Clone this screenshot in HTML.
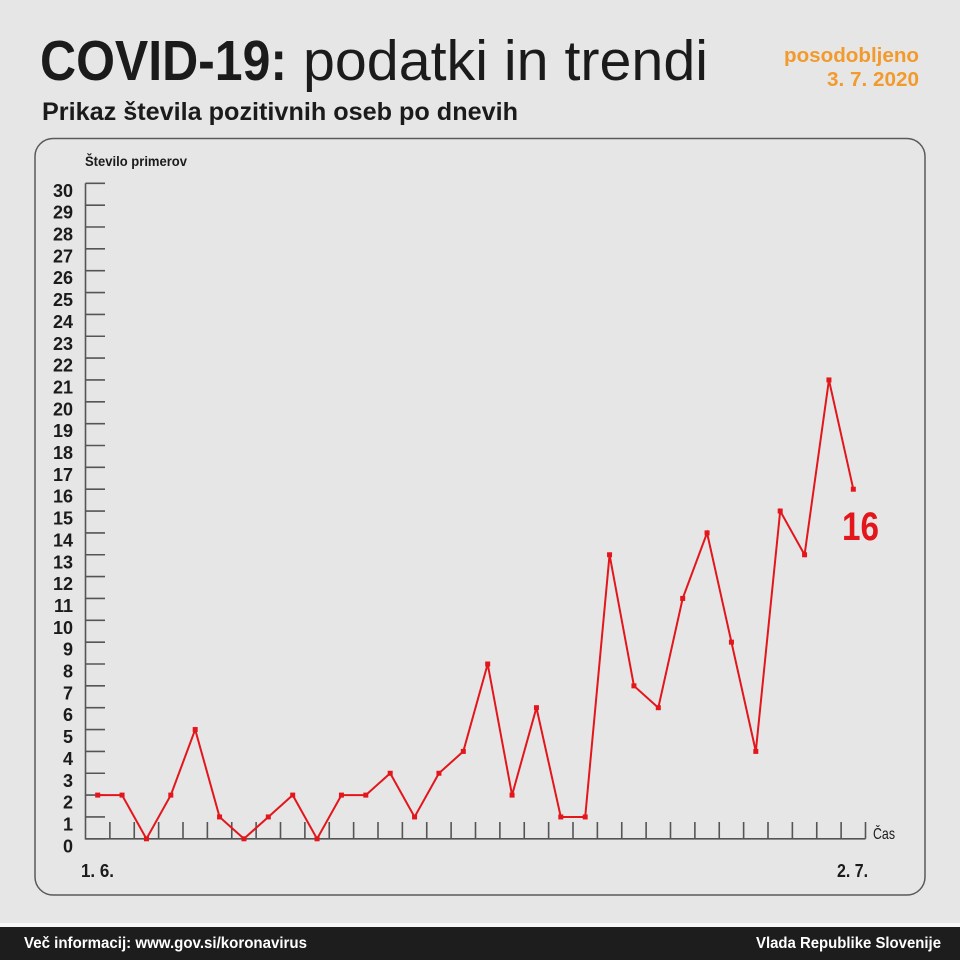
<!DOCTYPE html>
<html>
<head>
<meta charset="utf-8">
<style>
html,body{margin:0;padding:0;background:#e6e6e6;}
svg{display:block;}
text{font-family:"Liberation Sans",sans-serif;}
</style>
</head>
<body>
<svg width="960" height="960" viewBox="0 0 960 960" xmlns="http://www.w3.org/2000/svg">
<defs>
<marker id="sq" markerWidth="6" markerHeight="6" refX="3" refY="3" markerUnits="userSpaceOnUse">
<rect x="0.5" y="0.5" width="5" height="5" fill="#e3161c"/>
</marker>
</defs>
<rect x="0" y="0" width="960" height="960" fill="#e6e6e6"/>

<!-- Titles -->
<text x="40" y="80" font-size="57" font-weight="700" fill="#1b1b1b" textLength="247" lengthAdjust="spacingAndGlyphs">COVID-19:</text>
<text x="303" y="80" font-size="57" font-weight="400" fill="#1b1b1b" textLength="405" lengthAdjust="spacingAndGlyphs">podatki in trendi</text>
<text x="919" y="62" font-size="20" font-weight="700" fill="#f39a2d" text-anchor="end" textLength="135" lengthAdjust="spacingAndGlyphs">posodobljeno</text>
<text x="919" y="86" font-size="20" font-weight="700" fill="#f39a2d" text-anchor="end" textLength="92" lengthAdjust="spacingAndGlyphs">3. 7. 2020</text>
<text x="42" y="120" font-size="25" font-weight="700" fill="#1b1b1b" textLength="476" lengthAdjust="spacingAndGlyphs">Prikaz števila pozitivnih oseb po dnevih</text>

<!-- Box -->
<rect x="35" y="138.5" width="890" height="756.5" rx="18" ry="18" fill="none" stroke="#5a5a5a" stroke-width="1.5"/>

<text x="85" y="166" font-size="14" font-weight="700" fill="#1b1b1b" textLength="102" lengthAdjust="spacingAndGlyphs">Število primerov</text>

<!-- Axes -->
<g stroke="#555" stroke-width="1.6" fill="none">
<path d="M85.5 183.3 V838.8 H865.5"/>
<path d="M85.5 838.8H105M85.5 816.95H105M85.5 795.1H105M85.5 773.25H105M85.5 751.4H105M85.5 729.55H105M85.5 707.7H105M85.5 685.85H105M85.5 664H105M85.5 642.15H105M85.5 620.3H105M85.5 598.45H105M85.5 576.6H105M85.5 554.75H105M85.5 532.9H105M85.5 511.05H105M85.5 489.2H105M85.5 467.35H105M85.5 445.5H105M85.5 423.65H105M85.5 401.8H105M85.5 379.95H105M85.5 358.1H105M85.5 336.25H105M85.5 314.4H105M85.5 292.55H105M85.5 270.7H105M85.5 248.85H105M85.5 227H105M85.5 205.15H105M85.5 183.3H105"/>
<path d="M109.875 822V838.8M134.25 822V838.8M158.625 822V838.8M183 822V838.8M207.375 822V838.8M231.75 822V838.8M256.125 822V838.8M280.5 822V838.8M304.875 822V838.8M329.25 822V838.8M353.625 822V838.8M378 822V838.8M402.375 822V838.8M426.75 822V838.8M451.125 822V838.8M475.5 822V838.8M499.875 822V838.8M524.25 822V838.8M548.625 822V838.8M573 822V838.8M597.375 822V838.8M621.75 822V838.8M646.125 822V838.8M670.5 822V838.8M694.875 822V838.8M719.25 822V838.8M743.625 822V838.8M768 822V838.8M792.375 822V838.8M816.75 822V838.8M841.125 822V838.8M865.5 822V838.8"/>
</g>

<!-- Y labels -->
<g font-size="18" font-weight="700" fill="#1b1b1b" text-anchor="end">
<text x="73" y="852.3">0</text>
<text x="73" y="830.45">1</text>
<text x="73" y="808.6">2</text>
<text x="73" y="786.75">3</text>
<text x="73" y="764.9">4</text>
<text x="73" y="743.05">5</text>
<text x="73" y="721.2">6</text>
<text x="73" y="699.35">7</text>
<text x="73" y="677.5">8</text>
<text x="73" y="655.65">9</text>
<text x="73" y="633.8">10</text>
<text x="73" y="611.95">11</text>
<text x="73" y="590.1">12</text>
<text x="73" y="568.25">13</text>
<text x="73" y="546.4">14</text>
<text x="73" y="524.55">15</text>
<text x="73" y="502.7">16</text>
<text x="73" y="480.85">17</text>
<text x="73" y="459">18</text>
<text x="73" y="437.15">19</text>
<text x="73" y="415.3">20</text>
<text x="73" y="393.45">21</text>
<text x="73" y="371.6">22</text>
<text x="73" y="349.75">23</text>
<text x="73" y="327.9">24</text>
<text x="73" y="306.05">25</text>
<text x="73" y="284.2">26</text>
<text x="73" y="262.35">27</text>
<text x="73" y="240.5">28</text>
<text x="73" y="218.65">29</text>
<text x="73" y="196.8">30</text>
</g>

<!-- X labels -->
<text x="81" y="877" font-size="18" font-weight="700" fill="#1b1b1b" textLength="33" lengthAdjust="spacingAndGlyphs">1. 6.</text>
<text x="837" y="877" font-size="18" font-weight="700" fill="#1b1b1b" textLength="31" lengthAdjust="spacingAndGlyphs">2. 7.</text>
<text x="873" y="839" font-size="16" font-weight="400" fill="#1b1b1b" textLength="22" lengthAdjust="spacingAndGlyphs">Čas</text>

<!-- Series -->
<polyline fill="none" stroke="#e3161c" stroke-width="2" stroke-linejoin="miter"
marker-start="url(#sq)" marker-mid="url(#sq)" marker-end="url(#sq)"
points="97.69,795.1 122.06,795.1 146.44,838.8 170.81,795.1 195.19,729.55 219.56,816.95 243.94,838.8 268.31,816.95 292.69,795.1 317.06,838.8 341.44,795.1 365.81,795.1 390.19,773.25 414.56,816.95 438.94,773.25 463.31,751.4 487.69,664 512.06,795.1 536.44,707.7 560.81,816.95 585.19,816.95 609.56,554.75 633.94,685.85 658.31,707.7 682.69,598.45 707.06,532.9 731.44,642.15 755.81,751.4 780.19,511.05 804.56,554.75 828.94,379.95 853.31,489.2"/>

<text x="842" y="540" font-size="40" font-weight="700" fill="#e3161c" textLength="37" lengthAdjust="spacingAndGlyphs">16</text>

<!-- Footer -->
<rect x="0" y="923" width="960" height="4" fill="#f7f7f7"/>
<rect x="0" y="927" width="960" height="33" fill="#1d1d1d"/>
<text x="24" y="948" font-size="16" font-weight="700" fill="#ffffff" textLength="283" lengthAdjust="spacingAndGlyphs">Več informacij: www.gov.si/koronavirus</text>
<text x="941" y="948" font-size="16" font-weight="700" fill="#ffffff" text-anchor="end" textLength="185" lengthAdjust="spacingAndGlyphs">Vlada Republike Slovenije</text>
</svg>
</body>
</html>
